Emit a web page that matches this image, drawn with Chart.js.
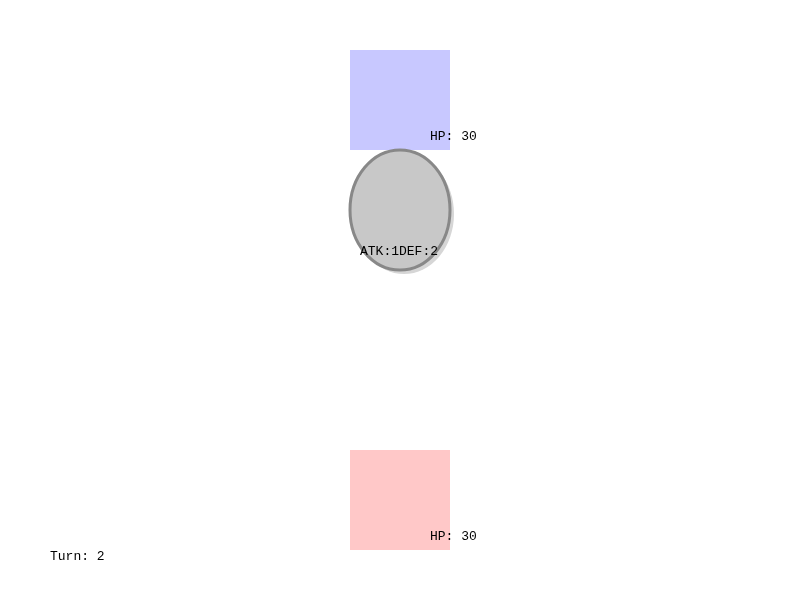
<!DOCTYPE html>
<html>
<head>
<meta charset="utf-8">
<script src="https://cdn.jsdelivr.net/npm/chart.js@4"></script>
<style>
  html,body{margin:0;padding:0;background:#fff}
  #wrap{width:800px;height:600px}
</style>
</head>
<body>
<div id="wrap"><canvas id="c"></canvas></div>
<script>
// board units are pixels of a 800x600 scene
const unitNames  = ['enemy', 'player'];
const unitX      = [350, 350];
const unitY      = [50, 450];
const unitSize   = [100, 100];
const unitHP     = [30, 30];
const unitColors = ['#c8c8ff', '#ffc8c8'];

const tokenX = [400], tokenY = [210], tokenRX = [50], tokenRY = [60];
const tokenLabels = ['ATK:1DEF:2'];
const turn = 2;

const FONT = '13px "Liberation Mono", "DejaVu Sans Mono", monospace';

const scenePlugin = {
  id: 'scene',
  afterDatasetsDraw(chart) {
    const {ctx, scales:{x, y}} = chart;
    ctx.save();
    // unit squares
    unitNames.forEach((n, i) => {
      const x0 = x.getPixelForValue(unitX[i]), y0 = y.getPixelForValue(unitY[i]);
      const x1 = x.getPixelForValue(unitX[i] + unitSize[i]), y1 = y.getPixelForValue(unitY[i] + unitSize[i]);
      ctx.fillStyle = unitColors[i];
      ctx.fillRect(x0, y0, x1 - x0, y1 - y0);
    });
    // token ellipse
    tokenX.forEach((cx, i) => {
      const px = x.getPixelForValue(cx), py = y.getPixelForValue(tokenY[i]);
      const rx = x.getPixelForValue(cx + tokenRX[i]) - px;
      const ry = y.getPixelForValue(tokenY[i] + tokenRY[i]) - py;
      ctx.fillStyle = '#d6d6d6';
      ctx.beginPath(); ctx.ellipse(px + 4, py + 4, rx, ry, 0, 0, Math.PI * 2); ctx.fill();
      ctx.fillStyle = '#c8c8c8';
      ctx.strokeStyle = '#888';
      ctx.lineWidth = 3;
      ctx.beginPath(); ctx.ellipse(px, py, rx, ry, 0, 0, Math.PI * 2); ctx.fill(); ctx.stroke();
      ctx.font = FONT; ctx.fillStyle = '#000'; ctx.textBaseline = 'alphabetic';
      ctx.fillText(tokenLabels[i], px - 40, py + 45);
    });
    ctx.font = FONT; ctx.fillStyle = '#000';
    unitNames.forEach((n, i) => {
      ctx.fillText('HP: ' + unitHP[i], x.getPixelForValue(unitX[i] + 80), y.getPixelForValue(unitY[i] + 90));
    });
    ctx.fillText('Turn: ' + turn, x.getPixelForValue(50), y.getPixelForValue(560));
    ctx.restore();
  }
};

new Chart(document.getElementById('c'), {
  type: 'scatter',
  data: { datasets: [{ data: unitX.map((v, i) => ({x: v + unitSize[i] / 2, y: unitY[i] + unitSize[i] / 2})), pointRadius: 0 }] },
  options: {
    responsive: true, maintainAspectRatio: false, animation: false,
    layout: { padding: 0 },
    plugins: { legend: { display: false }, tooltip: { enabled: false } },
    scales: {
      x: { type: 'linear', min: 0, max: 800, display: false },
      y: { type: 'linear', min: 0, max: 600, reverse: true, display: false }
    }
  },
  plugins: [scenePlugin]
});
</script>
</body>
</html>
